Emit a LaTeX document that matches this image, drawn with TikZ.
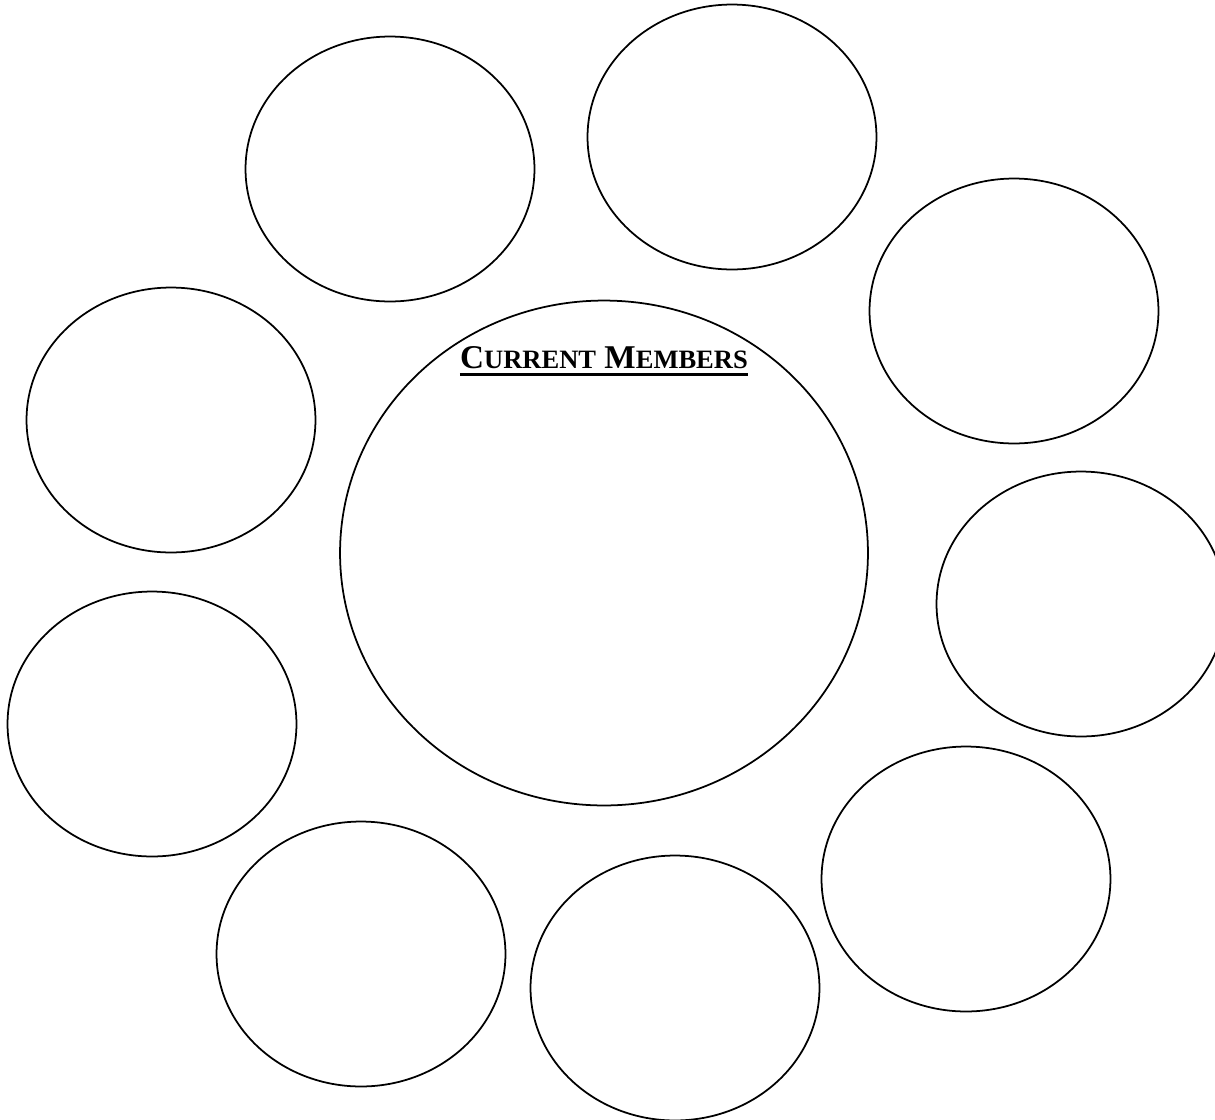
\documentclass[tikz,border=0pt]{standalone}
\usepackage{fontspec}
\setmainfont{Liberation Serif}
\usetikzlibrary{shapes.geometric}

\begin{document}
\begin{tikzpicture}[
        x=0.02cm, y=-0.02cm,
        miembro/.style={
            ellipse,
            draw=black,
            line width=1pt,
            minimum width=5.78cm,
            minimum height=5.3cm,
            inner sep=0pt
        },
        nucleo/.style={
            ellipse,
            draw=black,
            line width=1pt,
            minimum width=10.56cm,
            minimum height=10.1cm,
            inner sep=0pt
        },
        titulo/.style={
            inner sep=0pt,
            font=\fontsize{18.9}{20}\selectfont\bfseries
        }
    ]
        \useasboundingbox (0,0) rectangle (1215,1120);
        \clip (0,0) rectangle (1215,1120);

        % circulo central
        \node[nucleo] (centro) at (604,553) {};
        \node[titulo, anchor=base] (rotulo) at (604,368)
            {C{\fontsize{15.1}{16}\selectfont URRENT} M{\fontsize{15.1}{16}\selectfont EMBERS}};
        \draw[line width=1.6pt] ([yshift=-3.5pt]rotulo.base west) -- ([yshift=-3.5pt]rotulo.base east);

        % circulos de alrededor
        \node[miembro] (arribaIzq) at (390,169) {};
        \node[miembro] (arriba) at (732,137) {};
        \node[miembro] (arribaDer) at (1014,311) {};
        \node[miembro] (derecha) at (1081,604) {};
        \node[miembro] (abajoDer) at (966,879) {};
        \node[miembro] (abajo) at (675,988) {};
        \node[miembro] (abajoIzq) at (361,954) {};
        \node[miembro] (izqAbajo) at (152,724) {};
        \node[miembro] (izqArriba) at (171,420) {};
    \end{tikzpicture}
\end{document}
